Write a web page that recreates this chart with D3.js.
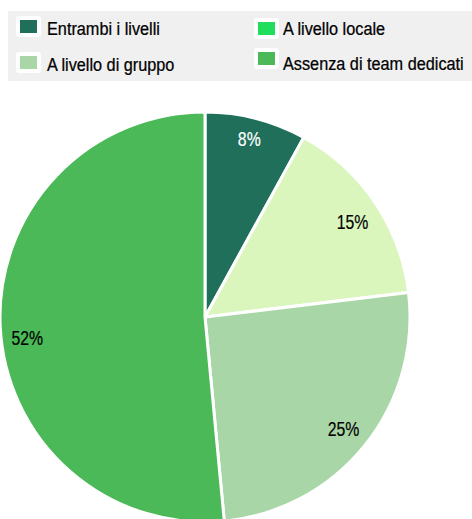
<!DOCTYPE html>
<html><head><meta charset="utf-8">
<script src="https://cdn.jsdelivr.net/npm/d3@7"></script>
<style>html,body{margin:0;padding:0;background:#fff;}svg{display:block;}</style>
</head><body>
<svg id="chart" width="472" height="519"></svg>
<script>
const categories = ["Entrambi i livelli", "A livello locale", "A livello di gruppo", "Assenza di team dedicati"];
const values = [8.0, 15.1, 25.4, 51.5];
const sliceColors = ["#1f6f5b", "#daf6bd", "#a8d6a6", "#4bb958"];
const legendColors = ["#1f6f5b", "#20dd5c", "#a8d6a6", "#4bb958"];
const labelColors = ["#ffffff", "#000000", "#000000", "#000000"];

const svg = d3.select("#chart");
const font = "'Liberation Sans', Arial, sans-serif";

// Legend
svg.append("rect").attr("x", 8).attr("y", 11).attr("width", 470).attr("height", 70).attr("fill", "#f0f0f0");
const legendPos = [
  {sx: 20, sy: 20, tx: 47, ty: 35},
  {sx: 258, sy: 22, tx: 283, ty: 35},
  {sx: 20, sy: 56, tx: 47, ty: 71},
  {sx: 258, sy: 52, tx: 283, ty: 70}
];
const lg = svg.append("g").selectAll("g").data(categories).join("g");
lg.append("rect")
  .attr("x", (d, i) => legendPos[i].sx - 4).attr("y", (d, i) => legendPos[i].sy - 4)
  .attr("width", 25).attr("height", 21).attr("rx", 3).attr("fill", "#ffffff");
lg.append("rect")
  .attr("x", (d, i) => legendPos[i].sx).attr("y", (d, i) => legendPos[i].sy)
  .attr("width", 17).attr("height", 13).attr("fill", (d, i) => legendColors[i]);
lg.append("text")
  .attr("transform", (d, i) => `translate(${legendPos[i].tx},${legendPos[i].ty}) scale(0.93,1)`)
  .attr("font-family", font).attr("font-size", 17.5).attr("fill", "#000")
  .attr("stroke", "#000").attr("stroke-width", 0.25)
  .text(d => d);

// Pie
const cx = 205, cy = 317, r = 205;
const pie = d3.pie().sort(null).value(d => d);
const arcs = pie(values);
const arc = d3.arc().innerRadius(0).outerRadius(r);
const labelArc = d3.arc().innerRadius(178).outerRadius(178);
const labelNudgeY = [-6, 5, 0, 13];
const g = svg.append("g").attr("transform", `translate(${cx},${cy})`);
g.selectAll("path").data(arcs).join("path")
  .attr("d", arc)
  .attr("fill", (d, i) => sliceColors[i])
  .attr("stroke", "#ffffff").attr("stroke-width", 3).attr("stroke-linejoin", "round");
g.selectAll("text").data(arcs).join("text")
  .attr("transform", (d, i) => { const [x, y] = labelArc.centroid(d); return `translate(${x},${y + 7 + labelNudgeY[i]}) scale(0.79,1)`; })
  .attr("text-anchor", "middle")
  .attr("font-family", font).attr("font-size", 20)
  .attr("fill", (d, i) => labelColors[i])
  .attr("stroke", (d, i) => labelColors[i]).attr("stroke-width", 0.2)
  .text(d => Math.round(d.data) + "%");
</script>
</body></html>
